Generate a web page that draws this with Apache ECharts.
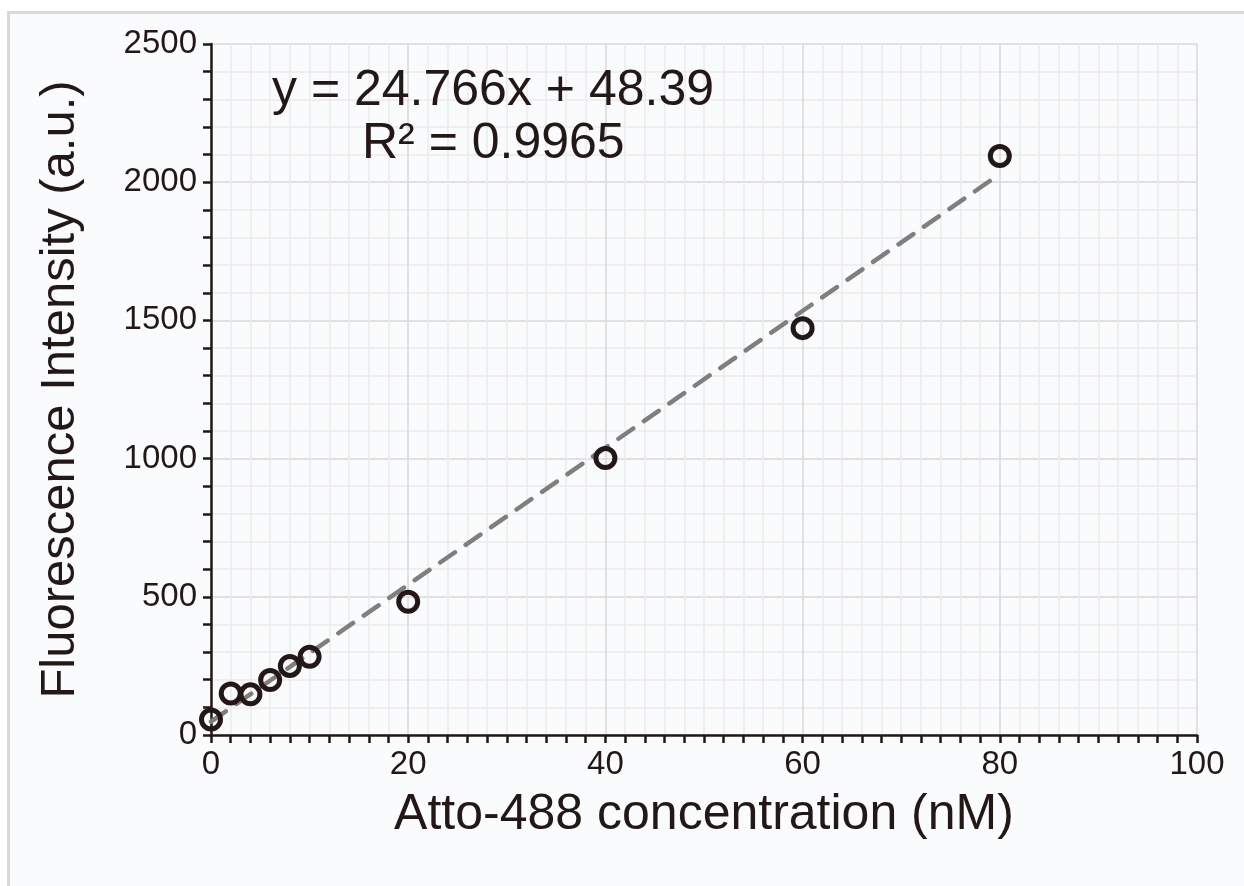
<!DOCTYPE html>
<html>
<head>
<meta charset="utf-8">
<title>Atto-488 calibration</title>
<script src="https://cdn.jsdelivr.net/npm/echarts@6/dist/echarts.min.js"></script>
<style>
  html, body { margin: 0; padding: 0; background: #ffffff; }
  #frame {
    position: absolute; left: 7px; top: 11px; width: 1260px; height: 900px;
    border-left: 3px solid #d9d9d9; border-top: 3px solid #d9d9d9;
    background: #f9fbfd;
  }
  #chart { position: absolute; left: 0; top: 0; width: 1244px; height: 886px; }
</style>
</head>
<body>
<div id="frame"></div>
<div id="chart"></div>
<script>
// measured points
const concentration = [0, 2, 4, 6, 8, 10, 20, 40, 60, 80];
const intensity = [56, 150, 147, 199, 250, 283, 482, 1002, 1472, 2095];

// linear fit shown on the chart (endpoints read from the equation)
const trendX = [0, 80];
const trendY = [48.39, 2029.67];

const equationText = 'y = 24.766x + 48.39';
const r2Text = 'R² = 0.9965';

const ink = '#231815';
const fontFamily = '"Liberation Sans", Arial, sans-serif';

const chart = echarts.init(document.getElementById('chart'));

chart.setOption({
  animation: false,
  backgroundColor: 'transparent',
  grid: { left: 211, right: 47, top: 44, bottom: 151 },
  xAxis: {
    type: 'value',
    min: 0,
    max: 100,
    interval: 20,
    name: 'Atto-488 concentration (nM)',
    nameLocation: 'middle',
    nameGap: 55,
    nameTextStyle: { color: ink, fontSize: 50, fontFamily: fontFamily },
    axisLine: { show: true, onZero: false, lineStyle: { color: ink, width: 2.5 } },
    axisTick: { show: true, length: 8, lineStyle: { color: ink, width: 2.5 } },
    minorTick: { show: true, splitNumber: 10, length: 8, lineStyle: { color: ink, width: 2.5 } },
    axisLabel: { color: ink, fontSize: 33, fontFamily: fontFamily, margin: 13, formatter: v => String(v) },
    splitLine: { show: true, lineStyle: { color: '#d9d9d9', width: 1.5 } },
    minorSplitLine: { show: true, lineStyle: { color: '#ececec', width: 1.5 } }
  },
  yAxis: {
    type: 'value',
    min: 0,
    max: 2500,
    interval: 500,
    name: 'Fluorescence Intensity (a.u.)',
    nameLocation: 'middle',
    nameGap: 126,
    nameTextStyle: { color: ink, fontSize: 49, fontFamily: fontFamily },
    axisLine: { show: true, onZero: false, lineStyle: { color: ink, width: 2.5 } },
    axisTick: { show: true, length: 8, lineStyle: { color: ink, width: 2.5 } },
    minorTick: { show: true, splitNumber: 5, length: 8, lineStyle: { color: ink, width: 2.5 } },
    axisLabel: { color: ink, fontSize: 33, fontFamily: fontFamily, margin: 14, formatter: v => String(v) },
    splitLine: { show: true, lineStyle: { color: '#d9d9d9', width: 1.5 } },
    minorSplitLine: { show: true, lineStyle: { color: '#ececec', width: 1.5 } }
  },
  graphic: [
    {
      type: 'text',
      left: 272,
      top: 66,
      z: 100,
      style: { text: equationText, fill: ink, font: '50px ' + fontFamily }
    },
    {
      type: 'text',
      left: 362,
      top: 119,
      z: 100,
      style: { text: r2Text, fill: ink, font: '50px ' + fontFamily }
    }
  ],
  series: [
    {
      name: 'Linear fit',
      type: 'line',
      data: trendX.map((x, i) => [x, trendY[i]]),
      symbol: 'none',
      z: 2,
      lineStyle: { color: '#7f7f7f', width: 4.5, type: [18, 13], cap: 'round' }
    },
    {
      name: 'Intensity',
      type: 'scatter',
      data: concentration.map((x, i) => [x, intensity[i]]),
      symbol: 'circle',
      symbolSize: 19,
      z: 3,
      itemStyle: { color: 'rgba(255,255,255,0)', borderColor: ink, borderWidth: 5, opacity: 1 }
    }
  ]
});

window.addEventListener('resize', function () {
  chart.resize();
});
</script>
</body>
</html>
